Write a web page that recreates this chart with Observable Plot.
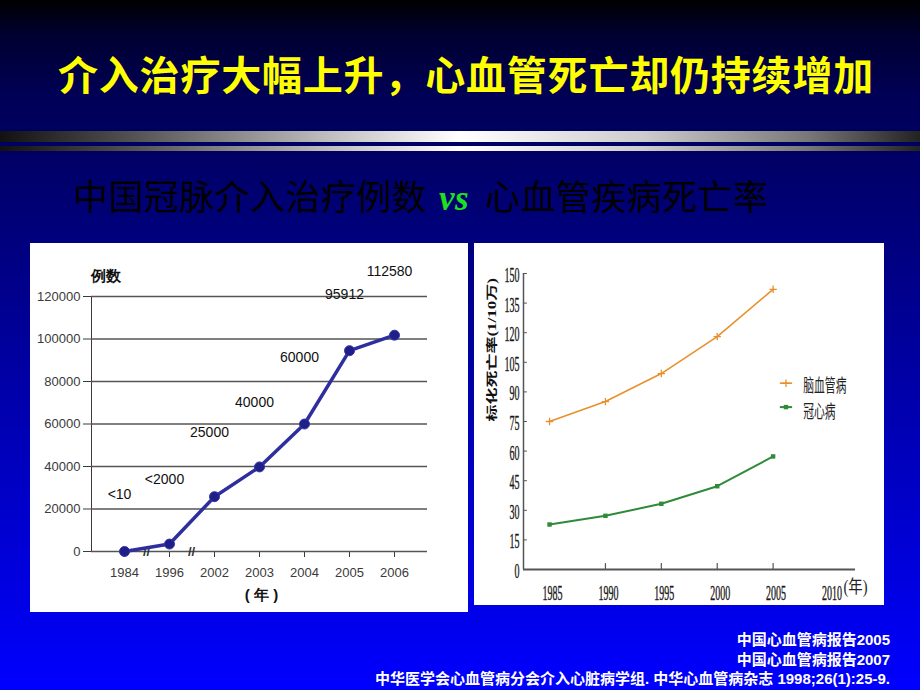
<!DOCTYPE html>
<html>
<head>
<meta charset="utf-8">
<script src="https://cdn.jsdelivr.net/npm/d3@7"></script>
<script src="https://cdn.jsdelivr.net/npm/@observablehq/plot@0.6"></script>
<style>
  html, body { margin: 0; padding: 0; }
  body {
    width: 920px; height: 690px; overflow: hidden; position: relative;
    background: linear-gradient(to bottom, #000000 0px, #000030 35px, #000058 100px, #00005e 130px, #000064 152px, #0000c0 470px, #0000ff 690px);
    font-family: "Noto Sans CJK SC", sans-serif;
  }
  .bar { position: absolute; left: 0; width: 920px;
    background: linear-gradient(to right, #111 0%, #555 15%, #bbb 35%, #fff 50%, #ccc 70%, #777 88%, #222 100%); }
  #title { position: absolute; left: 0; top: 50px; width: 932px; text-align: center; color: #ffff00;
    font-size: 40px; font-weight: bold; line-height: 46px; letter-spacing: 0.8px; white-space: nowrap; }
  #subtitle { position: absolute; left: 73px; top: 175px; color: #000; font-size: 35px; line-height: 40px; white-space: nowrap; letter-spacing: 0.4px; }
  #subtitle .vs { color: #1ee01e; font-family: "Liberation Serif", serif; font-style: italic; font-weight: bold; margin: 0 16px 0 12px; }
  .panel { position: absolute; background: #fff; }
  #notes { position: absolute; right: 30px; top: 630px; text-align: right; color: #fff;
    font-family: "Liberation Sans", "Noto Sans CJK SC", sans-serif; font-weight: bold; font-size: 15px; line-height: 19.5px; white-space: nowrap; }
</style>
</head>
<body>
<div id="title">介入治疗大幅上升，心血管死亡却仍持续增加</div>
<div class="bar" style="top:131px;height:11px;"></div>
<div class="bar" style="top:146px;height:5px;"></div>
<div id="subtitle">中国冠脉介入治疗例数<span class="vs">vs</span>心血管疾病死亡率</div>
<div class="panel" id="leftPanel" style="left:30px;top:243px;width:438px;height:369px;"></div>
<div class="panel" id="rightPanel" style="left:474px;top:243px;width:410px;height:362px;"></div>
<div id="notes">中国心血管病报告2005<br>中国心血管病报告2007<br>中华医学会心血管病分会介入心脏病学组. 中华心血管病杂志 1998;26(1):25-9.</div>
<script>
// ---- Left chart data: PCI cases in China ----
const leftYears = ["1984", "1996", "2002", "2003", "2004", "2005", "2006"];
const leftCases = [10, 3500, 25800, 39800, 60000, 94500, 101800];
const leftLabels = ["<10", "<2000", "25000", "40000", "60000", "95912", "112580"];
const leftLabelHeights = [26800, 34000, 56000, 70000, 91500, 121000, 131800];
const leftYTicks = [0, 20000, 40000, 60000, 80000, 100000, 120000];
const leftBreaks = ["1984", "1996"];

// ---- Right chart data: standardized mortality (1/100,000) ----
const rightYears = [1985, 1990, 1995, 2000, 2005];
const cerebro = [75.0, 85.1, 99.3, 118.0, 142.0];
const coronary = [22.8, 27.2, 33.3, 42.2, 57.3];
const seriesNames = ["脑血管病", "冠心病"];
const rightYTicks = [0, 15, 30, 45, 60, 75, 90, 105, 120, 135, 150];
const rightXTicks = [1985, 1990, 1995, 2000, 2005, 2010];
const rightTickMarks = [1990, 1995, 2000, 2005];
const rightYLabel = "标化死亡率(1/10万)";
const rightXUnit = "(年)";

const orange = "#e8902c", green = "#2f8a3a", navy = "#2e2e9e";

// condense text glyphs (the reference uses a narrow serif face)
function squeezeText(t, sx, sy) {
  const tr = t.getAttribute("transform") || "";
  t.setAttribute("transform", `${tr} scale(${sx},${sy})`);
}

// ---- Left plot ----
const leftData = leftYears.map((y, i) => ({year: y, cases: leftCases[i]}));
const labelData = leftYears.map((y, i) => ({year: y, h: leftLabelHeights[i], text: leftLabels[i]}));
const left = Plot.plot({
  width: 438, height: 369,
  marginLeft: 61, marginRight: 41, marginTop: 53, marginBottom: 61,
  style: {background: "white", fontFamily: "Liberation Sans, Arial, sans-serif", fontSize: "13px", color: "#3a3a3a"},
  x: {type: "point", domain: leftYears, padding: 0.7, tickSize: 6, tickPadding: 10, label: null},
  y: {domain: [0, 120000], ticks: leftYTicks, tickSize: 8, tickPadding: 3, tickFormat: d => String(d), label: null, line: true},
  marks: [
    Plot.ruleY(leftYTicks, {stroke: "#555", strokeWidth: 1.6}),
    Plot.text(leftBreaks, {x: d => d, y: 0, text: () => "//", dx: 22, fontSize: 13, fontWeight: "bold", fill: "#333"}),
    Plot.line(leftData, {x: "year", y: "cases", stroke: navy, strokeWidth: 3.5}),
    Plot.dot(leftData, {x: "year", y: "cases", r: 5, fill: "#1f1f88", stroke: "#3535a8", strokeWidth: 1}),
    Plot.text(labelData, {x: "year", y: "h", text: "text", dx: -5, fontSize: 14, fill: "#111"}),
    Plot.text(["例数"], {frameAnchor: "top-left", dx: -1, dy: -26, fontSize: 15, fontWeight: "bold", fill: "#111"}),
    Plot.text(["( 年 )"], {frameAnchor: "bottom", dx: 2, dy: 48, fontSize: 15, fontWeight: "bold", fill: "#111"})
  ]
});
document.getElementById("leftPanel").appendChild(left);

// ---- Right plot ----
const rxDomain = [1982.67, 2012.37];
const legX = [2005.6, 2006.7], legTextX = 2007.7, legY = [94.4, 82.3], legTextY = [92.8, 79.8];
const cerebroData = rightYears.map((y, i) => ({year: y, v: cerebro[i]}));
const coronaryData = rightYears.map((y, i) => ({year: y, v: coronary[i]}));
const right = Plot.plot({
  width: 410, height: 362,
  marginLeft: 49, marginRight: 29, marginTop: 30, marginBottom: 36,
  style: {background: "white", fontFamily: "Liberation Serif, 'Noto Sans CJK SC', serif", color: "#222"},
  x: {domain: rxDomain, axis: null},
  y: {domain: [0, 150], axis: null},
  marks: [
    Plot.ruleX([rxDomain[0]], {y1: 0, y2: 150, stroke: "#555", strokeWidth: 1.5}),
    Plot.ruleY([0], {stroke: "#555", strokeWidth: 2}),
    Plot.ruleY(rightYTicks, {x1: rxDomain[0], x2: rxDomain[0] + 0.35, stroke: "#555", strokeWidth: 1}),
    Plot.ruleX(rightTickMarks, {y1: 0, y2: 3, stroke: "#555", strokeWidth: 1.2}),
    Plot.text(rightYTicks, {x: rxDomain[0], y: d => d, text: d => String(d), textAnchor: "end", dx: -4, dy: 2, fontSize: 20, fill: "#1a1a1a", stroke: "#1a1a1a", strokeWidth: 0.4}),
    Plot.text(rightXTicks, {x: d => d, y: 0, text: d => String(d), dx: 3, dy: 24, fontSize: 20, fill: "#1a1a1a", stroke: "#1a1a1a", strokeWidth: 0.4}),
    Plot.line(cerebroData, {x: "year", y: "v", stroke: orange, strokeWidth: 1.6}),
    Plot.dot(cerebroData, {x: "year", y: "v", symbol: "plus", r: 2.5, stroke: orange, strokeWidth: 1.3}),
    Plot.line(coronaryData, {x: "year", y: "v", stroke: green, strokeWidth: 2}),
    Plot.dot(coronaryData, {x: "year", y: "v", symbol: "square", r: 2.5, fill: green}),
    // legend
    Plot.link([seriesNames[0]], {x1: legX[0], x2: legX[1], y1: legY[0], y2: legY[0], stroke: orange, strokeWidth: 1.6}),
    Plot.dot([seriesNames[0]], {x: (legX[0] + legX[1]) / 2, y: legY[0], symbol: "plus", r: 2.5, stroke: orange, strokeWidth: 1.3}),
    Plot.link([seriesNames[1]], {x1: legX[0], x2: legX[1], y1: legY[1], y2: legY[1], stroke: green, strokeWidth: 2}),
    Plot.dot([seriesNames[1]], {x: (legX[0] + legX[1]) / 2, y: legY[1], symbol: "square", r: 2.5, fill: green}),
    Plot.text(seriesNames, {x: legTextX, y: (d, i) => legTextY[i], text: d => d, textAnchor: "start", fontSize: 18, fill: "#222"}),
    Plot.text([rightYLabel], {frameAnchor: "left", dx: -31, rotate: -90, fontSize: 17, fontWeight: "bold", fill: "#111"}),
    Plot.text([rightXUnit], {frameAnchor: "bottom-right", dx: 12, dy: 23, fontSize: 18, fill: "#222"})
  ]
});
const numLabels = new Set([...rightYTicks, ...rightXTicks].map(String));
right.querySelectorAll("text").forEach(t => {
  const s = t.textContent.trim();
  if (numLabels.has(s)) squeezeText(t, 0.5, 1);
  else if (seriesNames.includes(s)) squeezeText(t, 0.6, 1);
  else if (s === rightYLabel) squeezeText(t, 1, 0.7);
  else if (s === rightXUnit) squeezeText(t, 0.8, 1);
});
document.getElementById("rightPanel").appendChild(right);
</script>
</body>
</html>
